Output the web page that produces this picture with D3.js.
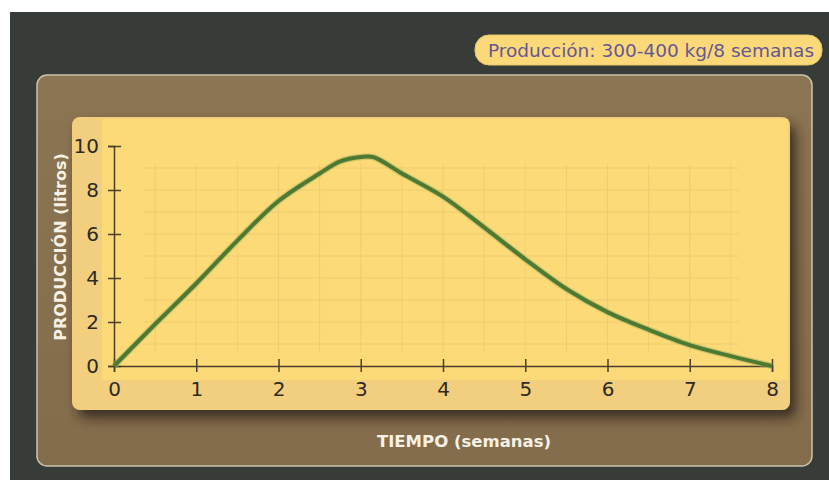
<!DOCTYPE html>
<html>
<head>
<meta charset="utf-8">
<script src="https://cdn.jsdelivr.net/npm/d3@7"></script>
<style>
  body { margin: 0; background: #fff; }
  svg { display: block; font-family: "DejaVu Sans", Verdana, sans-serif; }
</style>
</head>
<body>
<svg id="chart" width="829" height="480"></svg>
<script>
// data
var weeks = [0, 0.5, 1, 1.5, 2, 2.5, 2.75, 3, 3.15, 3.5, 4, 4.5, 5, 5.5, 6, 6.5, 7, 7.5, 8]
var litres = [0, 1.9, 3.75, 5.7, 7.5, 8.75, 9.3, 9.5, 9.5, 8.75, 7.7, 6.3, 4.85, 3.5, 2.45, 1.65, 0.95, 0.45, 0]
var xTicks = [0, 1, 2, 3, 4, 5, 6, 7, 8]
var yTicks = [0, 2, 4, 6, 8, 10]
var title = 'Producción: 300-400 kg/8 semanas'
var xTitle = 'TIEMPO (semanas)'
var yTitle = 'PRODUCCIÓN (litros)'

var svg = d3.select('#chart')

var defs = svg.append('defs')
var sh = defs.append('filter').attr('id', 'shadow')
  .attr('x', '-5%').attr('y', '-5%').attr('width', '115%').attr('height', '125%')
sh.append('feDropShadow').attr('dx', 6).attr('dy', 8).attr('stdDeviation', 6)
  .attr('flood-color', '#2a2418').attr('flood-opacity', 0.8)
var soft = defs.append('filter').attr('id', 'soft')
soft.append('feGaussianBlur').attr('stdDeviation', 0.7)

var bg = defs.append('linearGradient').attr('id', 'brown')
  .attr('x1', 0).attr('y1', 0).attr('x2', 0).attr('y2', 1)
bg.append('stop').attr('offset', 0).attr('stop-color', '#8b7552')
bg.append('stop').attr('offset', 1).attr('stop-color', '#836c4b')

// dark backdrop
svg.append('rect').attr('x', 10).attr('y', 12).attr('width', 819).attr('height', 468)
  .attr('fill', '#373c39')

// title pill
svg.append('rect').attr('x', 475).attr('y', 35).attr('width', 347).attr('height', 30)
  .attr('rx', 14).attr('fill', '#fbd978').attr('stroke', '#e8c468')
svg.append('text').attr('x', 651).attr('y', 57).attr('text-anchor', 'middle')
  .attr('font-size', 18.5).attr('fill', '#655796')
  .text(title)

// brown panel
svg.append('rect').attr('x', 37).attr('y', 75).attr('width', 775).attr('height', 391)
  .attr('rx', 10).attr('fill', 'url(#brown)').attr('stroke', '#cbc2ab').attr('stroke-width', 1.5)

// yellow plot panel
var x = d3.scaleLinear().domain([0, 8]).range([114, 772])
var y = d3.scaleLinear().domain([0, 10]).range([366, 146])

svg.append('rect').attr('x', 72).attr('y', 117).attr('width', 718).attr('height', 293)
  .attr('rx', 8).attr('fill', '#f1cf7f').attr('filter', 'url(#shadow)')
svg.append('rect').attr('x', 102).attr('y', 119).attr('width', 686).attr('height', 261)
  .attr('fill', '#fcda78')

// faint background grid
var grid = svg.append('g').attr('stroke', '#e7c46c').attr('stroke-width', 1).attr('opacity', 0.6)
grid.selectAll('line.v')
  .data(d3.range(0.5, 8, 0.5))
  .enter().append('line')
  .attr('x1', d => x(d)).attr('x2', d => x(d))
  .attr('y1', y(9.2)).attr('y2', y(0.6))
grid.selectAll('line.h')
  .data(d3.range(1, 10, 1))
  .enter().append('line')
  .attr('x1', x(0.35)).attr('x2', x(7.6))
  .attr('y1', d => y(d)).attr('y2', d => y(d))

// axes
var xAxis = svg.append('g').attr('transform', 'translate(0,' + y(0) + ')')
  .call(d3.axisBottom(x).tickValues(xTicks).tickSize(6).tickFormat(d3.format('d')))
xAxis.select('.domain').attr('stroke', '#4a3f2c').attr('stroke-width', 1.5)
xAxis.selectAll('.tick line').attr('y1', -7).attr('stroke', '#4a3f2c').attr('stroke-width', 1.5)
xAxis.selectAll('.tick text').attr('y', 16).attr('font-size', 20)
  .attr('fill', '#2e2a22').attr('font-family', '"DejaVu Sans", sans-serif')

var yAxis = svg.append('g').attr('transform', 'translate(' + x(0) + ',0)')
  .call(d3.axisLeft(y).tickValues(yTicks).tickSize(6).tickFormat(d3.format('d')))
yAxis.select('.domain').attr('stroke', '#4a3f2c').attr('stroke-width', 1.5)
yAxis.selectAll('.tick line').attr('x1', 7).attr('stroke', '#4a3f2c').attr('stroke-width', 1.5)
yAxis.selectAll('.tick text').attr('x', -15).attr('font-size', 20)
  .attr('fill', '#2e2a22').attr('font-family', '"DejaVu Sans", sans-serif')

// production curve
var line = d3.line()
  .x((d, i) => x(weeks[i]))
  .y(d => y(d))
  .curve(d3.curveCatmullRom.alpha(0.5))

svg.append('path').datum(litres)
  .attr('d', line)
  .attr('fill', 'none')
  .attr('stroke', '#a7b05a').attr('stroke-width', 6.5).attr('opacity', 0.5)
  .attr('filter', 'url(#soft)')
svg.append('path').datum(litres)
  .attr('d', line)
  .attr('fill', 'none')
  .attr('stroke', '#4d7a30').attr('stroke-width', 4)
  .attr('stroke-linejoin', 'round')
  .attr('filter', 'url(#soft)')

// axis titles
svg.append('text').attr('x', 464).attr('y', 447).attr('text-anchor', 'middle')
  .attr('font-size', 16.5).attr('font-weight', 'bold').attr('fill', '#f6f1e4')
  .text(xTitle)
svg.append('text')
  .attr('transform', 'translate(66,247) rotate(-90)')
  .attr('text-anchor', 'middle')
  .attr('font-size', 16).attr('font-weight', 'bold').attr('fill', '#f6f1e4')
  .text(yTitle)
</script>
</body>
</html>
